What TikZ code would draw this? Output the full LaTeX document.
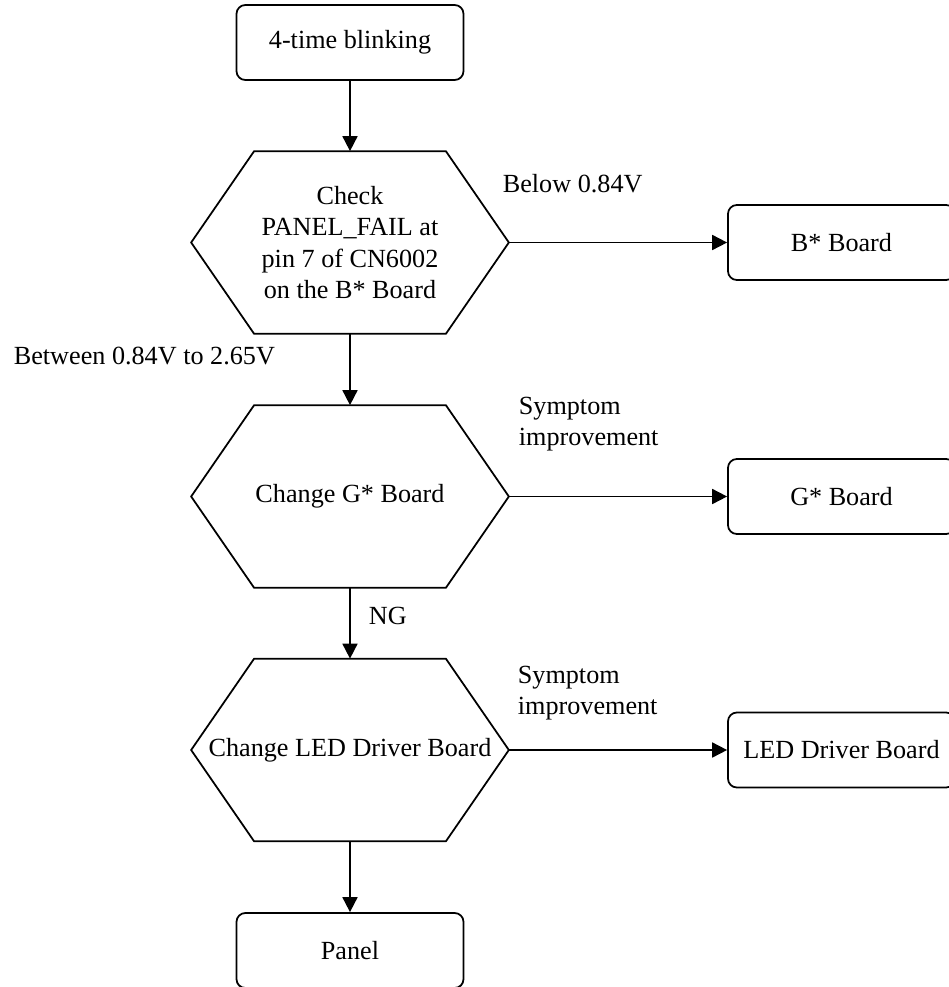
\documentclass[tikz,border=0pt]{standalone}
\usepackage{fontspec}
\setmainfont{Liberation Serif}
\usetikzlibrary{arrows.meta}

\tikzset{
  board/.style={draw, rounded corners=5pt, minimum width=4.54cm, minimum height=1.5cm, inner sep=0pt},
  hexa/.style={minimum width=6.32cm, minimum height=3.62cm, inner sep=0pt, align=center},
  lbl/.style={inner sep=0pt, anchor=west, align=left},
  flow/.style={-{Triangle[length=8.5pt,width=8.5pt]}}
}

\begin{document}
\begin{tikzpicture}[x=0.02cm, y=-0.02cm, line width=1pt, font=\fontsize{14.9}{17.9}\selectfont]
\useasboundingbox (0,0) rectangle (948,987);
% main column
\node[board] (blink) at (350,42.5) {4-time blinking};
\node[hexa] (chk) at (350,242.5) {Check\\PANEL\_FAIL at\\pin 7 of CN6002\\on the B* Board};
\node[hexa] (chg) at (350,496.5) {Change G* Board};
\node[hexa] (chl) at (350,750) {Change LED Driver Board};
\node[board] (pnl) at (350,950.5) {Panel};
% boards on the right
\node[board] (bbd) at (841.5,242.5) {B* Board};
\node[board] (gbd) at (841.5,496.5) {G* Board};
\node[board] (lbd) at (841.5,750) {LED Driver Board};
% hexagon outlines
\foreach \h in {chk,chg,chl}
  \draw (\h.west) -- ([xshift=1.26cm]\h.north west) -- ([xshift=-1.26cm]\h.north east)
    -- (\h.east) -- ([xshift=-1.26cm]\h.south east) -- ([xshift=1.26cm]\h.south west) -- cycle;
% connectors
\draw[flow] (blink) -- (chk.north);
\draw[flow] (chk.south) -- (chg.north);
\draw[flow] (chg.south) -- (chl.north);
\draw[flow] (chl.south) -- (pnl);
\draw[flow] (chk.east) -- (bbd);
\draw[flow] (chg.east) -- (gbd);
\draw[flow] (chl.east) -- (lbd);
% labels
\node[lbl] (below) at (502,184) {Below 0.84V};
\node[lbl] (betw) at (13,356) {Between 0.84V to 2.65V};
\node[lbl] (imp1) at (518,424) {Symptom\\improvement};
\node[lbl] (ng) at (368,615.5) {NG};
\node[lbl] (imp2) at (517,693) {Symptom\\improvement};
\end{tikzpicture}
\end{document}
